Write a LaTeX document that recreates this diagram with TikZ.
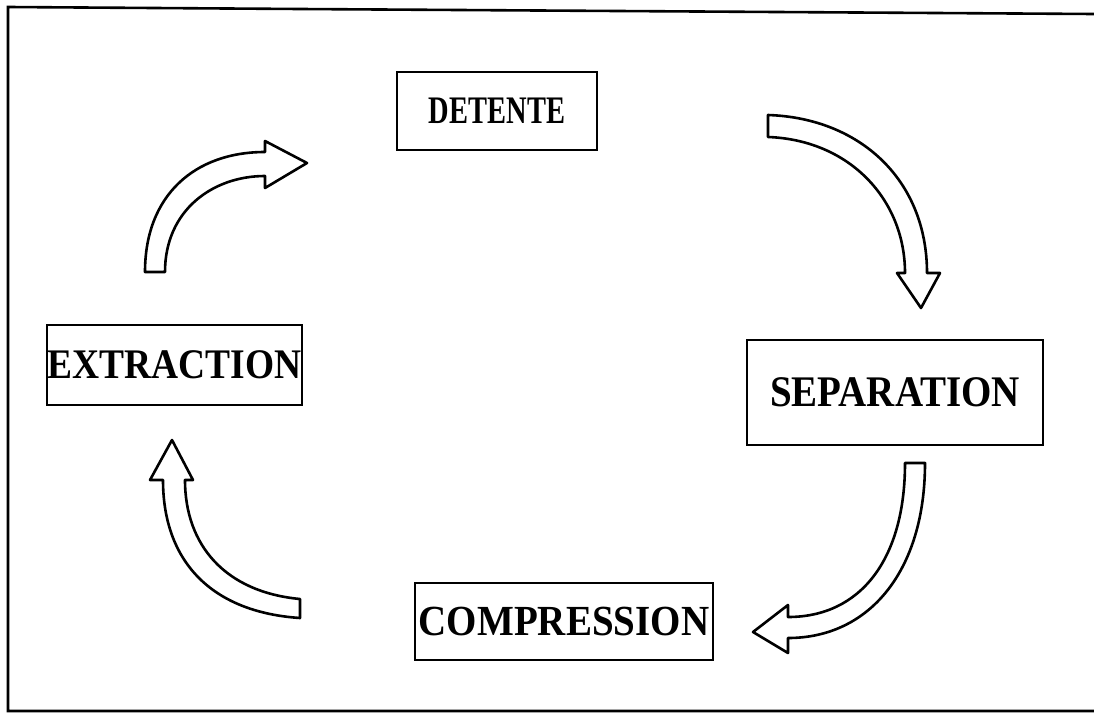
\documentclass[tikz,border=0pt]{standalone}
\usepackage{fontspec}
\setmainfont{Liberation Serif}
\begin{document}
\begin{tikzpicture}[x=1pt,y=-1pt,
  stagebox/.style={draw=black, line width=1.8pt, inner sep=0pt, font=\bfseries\fontsize{39}{39}\selectfont},
  blockarrow/.style={draw=black, fill=white, line width=2.6pt, line join=round},
  framebar/.style={draw=black, line width=2.6pt}]
\useasboundingbox (0,0) rectangle (1094,712);
% page frame
\draw[framebar] (1094,14) -- (300,9) -- (8,7) -- (8,711) -- (1094,711);
% stages
\node[stagebox, minimum width=200pt, minimum height=78pt] (det) at (497,111) {\scalebox{0.73}[1.0]{DETENTE}};
\node[stagebox, minimum width=296pt, minimum height=105pt] (sep) at (895,392.5) {\scalebox{1}[1.12]{SEPARATION}};
\node[stagebox, minimum width=298pt, minimum height=77pt] (com) at (564,621.5) {\scalebox{1}[1.1]{COMPRESSION}};
\node[stagebox, minimum width=255pt, minimum height=80pt] (ext) at (174.5,365) {\scalebox{0.96}[1.08]{EXTRACTION}};
% block arrow: extraction -> detente
\draw[blockarrow] (145,272) .. controls (145,195) and (195,152) .. (265,152)
  -- (265,141) -- (307,163) -- (265,188) -- (265,176)
  .. controls (213,176) and (165,210) .. (165,272) -- cycle;
% block arrow: detente -> separation
\draw[blockarrow] (768,115) .. controls (860,118) and (927,180) .. (927,273)
  -- (940,273) -- (921,308) -- (897,273) -- (905,273)
  .. controls (905,200) and (850,140) .. (768,137) -- cycle;
% block arrow: separation -> compression
\draw[blockarrow] (925,463) .. controls (925,570) and (870,638) .. (788,638)
  -- (788,653) -- (753,632) -- (788,605) -- (788,617)
  .. controls (860,617) and (905,560) .. (905,463) -- cycle;
% block arrow: compression -> extraction
\draw[blockarrow] (300,618) .. controls (210,612) and (163,560) .. (163,480)
  -- (150,480) -- (172,440) -- (193,480) -- (185,480)
  .. controls (185,545) and (225,592) .. (300,599) -- cycle;
\end{tikzpicture}
\end{document}
